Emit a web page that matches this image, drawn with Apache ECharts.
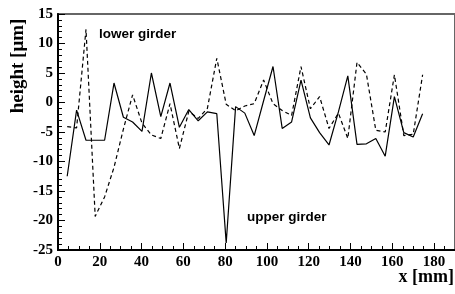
<!DOCTYPE html>
<html>
<head>
<meta charset="utf-8">
<script src="https://cdn.jsdelivr.net/npm/echarts@6/dist/echarts.min.js"></script>
<style>
  html, body { margin: 0; padding: 0; background: #fff; }
  #chart { width: 455px; height: 294px; }
</style>
</head>
<body>
<div id="chart"></div>
<script>
// measurement positions along the girder (mm)
const xPos = [4.4, 8.9, 13.4, 17.8, 22.3, 26.8, 31.3, 35.7, 40.2, 44.7,
              49.2, 53.6, 58.1, 62.6, 67.1, 71.5, 76.0, 80.5, 85.0, 89.4,
              93.9, 98.4, 102.9, 107.3, 111.8, 116.3, 120.8, 125.2, 129.7, 134.2,
              138.7, 143.1, 147.6, 152.1, 156.6, 161.0, 165.5, 170.0, 174.5];
// height (um), solid line
const upperGirder = [-12.5, -1.3, -6.4, -6.4, -6.4, 3.3, -2.5, -3.3, -4.9, 5.0,
                     -2.4, 3.3, -4.2, -1.2, -3.1, -1.6, -1.9, -23.8, -0.7, -1.8,
                     -5.6, 0.3, 6.1, -4.4, -3.3, 3.8, -2.6, -5.1, -7.2, -1.6,
                     4.5, -7.1, -7.0, -6.1, -9.1, 1.0, -5.1, -5.85, -1.9];
// height (um), dashed line
const lowerGirder = [-4.1, -4.3, 12.4, -19.3, -16.0, -11.0, -4.5, 1.3, -3.5, -5.5,
                     -6.1, -0.2, -7.8, -1.5, -2.7, -1.0, 7.5, -0.3, -1.4, -0.6,
                     -0.2, 3.8, -0.2, -1.35, -2.2, 6.1, -1.06, 1.0, -4.4, -1.8,
                     -6.1, 6.8, 4.8, -4.7, -5.0, 4.7, -5.6, -5.4, 4.7];
const xTicks = [0, 20, 40, 60, 80, 100, 120, 140, 160, 180];
const yTicks = [-25, -20, -15, -10, -5, 0, 5, 10, 15];

const pairs = (ys) => xPos.map((x, i) => [x, ys[i]]);
const serif = '"Liberation Serif", "DejaVu Serif", serif';
const sans = '"Liberation Sans", Arial, sans-serif';

const chart = echarts.init(document.getElementById('chart'));
chart.setOption({
  animation: false,
  backgroundColor: '#fff',
  grid: {
    left: 58, top: 14, width: 401, height: 236,
    show: true, borderColor: '#666', borderWidth: 2
  },
  xAxis: {
    type: 'value', min: 0, max: 190, interval: 20,
    axisLine: { onZero: false, lineStyle: { color: '#000', width: 2 } },
    axisTick: { inside: true, length: 7, lineStyle: { color: '#000', width: 1 } },
    minorTick: { show: true, splitNumber: 4, length: 4, lineStyle: { color: '#000', width: 1 } },
    splitLine: { show: false },
    axisLabel: {
      showMaxLabel: false, margin: 5, color: '#000',
      fontFamily: serif, fontWeight: 'bold', fontSize: 15,
      formatter: (v) => xTicks.includes(v) ? String(v) : ''
    }
  },
  yAxis: {
    type: 'value', min: yTicks[0], max: yTicks[yTicks.length - 1], interval: 5,
    axisLine: { onZero: false, lineStyle: { color: '#000', width: 2 } },
    axisTick: { inside: true, length: 7, lineStyle: { color: '#000', width: 1 } },
    minorTick: { show: true, splitNumber: 5, length: 4, lineStyle: { color: '#000', width: 1 } },
    splitLine: { show: false },
    axisLabel: {
      margin: 5, color: '#000',
      fontFamily: serif, fontWeight: 'bold', fontSize: 15
    }
  },
  series: [
    {
      name: 'upper girder', type: 'line', data: pairs(upperGirder),
      showSymbol: false, lineStyle: { color: '#000', width: 1.2 }
    },
    {
      name: 'lower girder', type: 'line', data: pairs(lowerGirder),
      showSymbol: false, lineStyle: { color: '#000', width: 1.2, type: [4, 3] }
    }
  ],
  graphic: [
    {
      type: 'text', x: 18, y: 66, rotation: Math.PI / 2,
      style: { text: 'height [μm]', font: 'bold 19px ' + serif, fill: '#000',
               align: 'center', verticalAlign: 'middle' }
    },
    {
      type: 'text', x: 454, y: 277,
      style: { text: 'x [mm]', font: 'bold 18px ' + serif, fill: '#000',
               align: 'right', verticalAlign: 'middle' }
    },
    {
      type: 'text', x: 99, y: 34,
      style: { text: 'lower girder', font: 'bold 13.5px ' + sans, fill: '#000',
               align: 'left', verticalAlign: 'middle' }
    },
    {
      type: 'text', x: 247, y: 217,
      style: { text: 'upper girder', font: 'bold 13.5px ' + sans, fill: '#000',
               align: 'left', verticalAlign: 'middle' }
    }
  ]
});
</script>
</body>
</html>
